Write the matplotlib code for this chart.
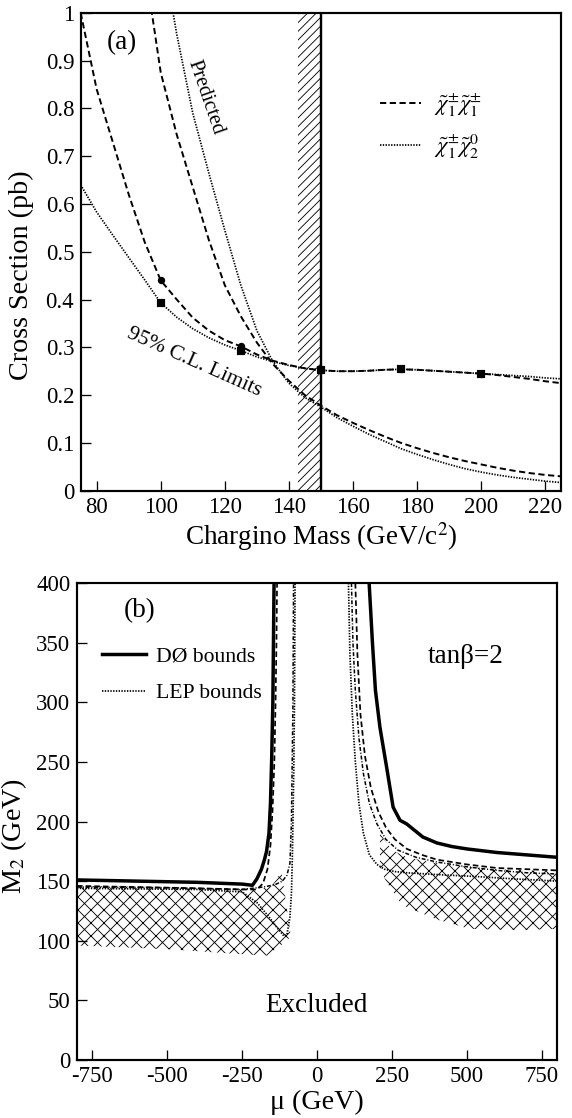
import numpy as np
import matplotlib
matplotlib.use("Agg")
import matplotlib.pyplot as plt
from matplotlib.patches import Polygon

plt.rcParams["font.family"] = ["Liberation Serif", "DejaVu Serif"]
plt.rcParams["mathtext.fontset"] = "stix"
plt.rcParams["axes.unicode_minus"] = False
plt.rcParams["hatch.linewidth"] = 0.4

DPI = 156

# ── (a) cross sections vs chargino mass ──────────────────────────────────────
mass = [75, 80, 85, 90, 95, 100, 105, 110, 115, 120, 125, 130, 135, 140, 145,
        150, 155, 160, 165, 170, 175, 180, 185, 190, 195, 200, 205, 210, 215,
        220, 225]

limit_c1c1 = [1.00, 0.84, 0.73, 0.62, 0.52, 0.44, 0.40, 0.362, 0.335, 0.315,
              0.302, 0.285, 0.272, 0.263, 0.256, 0.252, 0.250, 0.250, 0.251,
              0.253, 0.254, 0.253, 0.251, 0.249, 0.247, 0.245, 0.242, 0.238,
              0.234, 0.229, 0.225]
limit_c1n2 = [0.64, 0.583, 0.535, 0.488, 0.441, 0.393, 0.363, 0.339, 0.320,
              0.305, 0.293, 0.280, 0.270, 0.262, 0.256, 0.252, 0.250, 0.250,
              0.251, 0.253, 0.254, 0.253, 0.251, 0.249, 0.247, 0.245, 0.243,
              0.241, 0.239, 0.236, 0.234]

pred_mass = [95, 100, 105, 110, 115, 120, 125, 130, 135, 140, 145, 150, 155,
             160, 165, 170, 175, 180, 185, 190, 195, 200, 205, 210, 215, 220,
             225]
pred_c1c1 = [1.10, 0.875, 0.745, 0.635, 0.525, 0.43, 0.365, 0.31, 0.265,
             0.23, 0.20, 0.178, 0.158, 0.142, 0.127, 0.113, 0.100, 0.089,
             0.079, 0.070, 0.062, 0.055, 0.048, 0.042, 0.037, 0.033, 0.030]
pred_c1n2 = [1.30, 1.15, 0.955, 0.79, 0.665, 0.545, 0.43, 0.335, 0.27,
             0.225, 0.195, 0.175, 0.153, 0.135, 0.118, 0.103, 0.088, 0.076,
             0.065, 0.055, 0.046, 0.039, 0.033, 0.028, 0.024, 0.020, 0.017]

marker_mass = [100, 125, 150, 175, 200]
marker_c1c1 = [0.44, 0.302, 0.252, 0.254, 0.245]
marker_c1n2 = [0.393, 0.293, 0.252, 0.254, 0.245]

band_lo, band_hi = 143, 150   # hatched mass band and LEP line

# ── (b) excluded region in the mu-M2 plane, tan(beta)=2 ──────────────────────
d0_left_mu = [-800, -700, -600, -500, -400, -300, -250, -215, -200, -185,
              -175, -168, -160, -155, -151, -147, -145, -143]
d0_left_m2 = [151, 150.5, 150, 149.5, 149, 148, 147.5, 146.5, 152, 160,
              168, 175, 190, 215, 252, 300, 350, 400]
d0_right_mu = [174, 185, 195, 210, 232, 254, 277, 299, 353, 400, 450, 500,
               600, 700, 800]
d0_right_m2 = [400, 350, 310, 279, 246, 212, 201, 198, 187, 182, 179, 177,
               174, 172, 170]

dash_left_mu = [-800, -600, -400, -250, -200, -180, -165, -155, -148, -142,
                -138, -135, -133]
dash_left_m2 = [146, 145, 144, 143, 143, 148, 160, 180, 210, 250, 300, 350,
                400]
dash_right_mu = [128, 135, 145, 160, 180, 205, 230, 260, 300, 350, 400, 500,
                 600, 700, 800]
dash_right_m2 = [400, 340, 290, 255, 228, 208, 195, 185, 177, 172, 168, 164,
                 161, 160, 159]

dashdot_left_mu = [-800, -500, -250, -180, -140, -115, -100, -90, -85, -80,
                   -78]
dashdot_left_m2 = [145, 144.5, 143, 145, 147, 150, 155, 165, 200, 300, 400]
dashdot_right_mu = [115, 120, 128, 140, 155, 175, 200, 230, 270, 330, 400,
                    500, 600, 700, 800]
dashdot_right_m2 = [400, 350, 310, 270, 240, 215, 198, 185, 176, 170, 166,
                    162, 159, 157, 156]

lep_left_mu = [-800, -600, -400, -250, -200, -160, -130, -110, -100, -90,
               -85, -82, -80, -77, -75, -73]
lep_left_m2 = [144, 143.5, 143, 141, 132, 120, 110, 104, 105, 120, 140, 170,
               200, 250, 300, 400]
lep_right_mu = [105, 110, 118, 128, 140, 155, 175, 200, 225, 260, 300, 400,
                520, 650, 800]
lep_right_m2 = [400, 340, 290, 250, 215, 190, 172, 164, 160, 158, 157, 155.5,
                154, 152, 150]

hatch_left_mu = [-800, -500, -250, -200, -150, -118, -87, -100, -166, -270,
                 -500, -800]
hatch_left_m2 = [146, 145, 143, 143, 146, 158, 104, 100, 87.6, 89, 93, 96]
hatch_right_mu = [210, 250, 300, 400, 500, 600, 700, 800, 800, 700, 641, 508,
                  398, 283, 230, 210]
hatch_right_m2 = [190, 176, 170, 165, 162, 160, 159, 158, 110, 109, 109, 110,
                  118, 130, 150, 161]

fig = plt.figure(figsize=(572 / DPI, 1118 / DPI), dpi=DPI)
ax_a = fig.add_axes([0.141, 0.5611, 0.840, 0.4275])
ax_b = fig.add_axes([0.1346, 0.0519, 0.839, 0.4266])

tick_kw = dict(direction="in", length=4.5, width=0.6, labelsize=10.5,
               top=False, right=False, pad=3)
DASH = (0, (3.2, 1.8))
DOT = (0, (0.8, 0.8))
DASHDOT = (0, (2.6, 1.2, 0.7, 1.2))

# panel (a)
ax = ax_a
ax.axvspan(band_lo, band_hi, facecolor="none", edgecolor="black",
           hatch="//////", linewidth=0)
ax.axvline(band_hi, color="black", lw=1.1)
ax.plot(pred_mass, pred_c1c1, color="black", lw=0.9, ls=DASH)
ax.plot(pred_mass, pred_c1n2, color="black", lw=0.8, ls=DOT)
l1, = ax.plot(mass, limit_c1c1, color="black", lw=0.9, ls=DASH,
              label=r"$\tilde{\chi}_1^{\pm}\tilde{\chi}_1^{\pm}$")
l2, = ax.plot(mass, limit_c1n2, color="black", lw=0.8, ls=DOT,
              label=r"$\tilde{\chi}_1^{\pm}\tilde{\chi}_2^{0}$")
ax.plot(marker_mass, marker_c1c1, "o", color="black", ms=2.4)
ax.plot(marker_mass, marker_c1n2, "s", color="black", ms=2.4)

ax.set_xlim(75, 225)
ax.set_ylim(0, 1)
ax.set_xticks([80, 100, 120, 140, 160, 180, 200, 220])
ax.set_yticks(np.arange(0, 1.01, 0.1))
ax.set_yticklabels(["0", "0.1", "0.2", "0.3", "0.4", "0.5", "0.6", "0.7",
                    "0.8", "0.9", "1"])
ax.tick_params(**tick_kw)
ax.set_xlabel("Chargino Mass (GeV/c$^2$)", fontsize=12.5, labelpad=1)
ax.set_ylabel("Cross Section (pb)", fontsize=13)
ax.yaxis.set_label_coords(-0.098, 0.45)
ax.text(87.9, 0.937, "(a)", fontsize=12.5, ha="center", va="center")
ax.text(113.8, 0.823, "Predicted", fontsize=9.5, rotation=-71,
        ha="center", va="center")
ax.text(110.5, 0.268, "95% C.L. Limits", fontsize=10, rotation=-24,
        ha="center", va="center")
ax.legend(handles=[l1, l2], loc="upper left", bbox_to_anchor=(0.605, 0.855),
          frameon=False, fontsize=10.5, handlelength=1.8, handletextpad=0.55,
          labelspacing=0.55, borderaxespad=0)

# panel (b)
ax = ax_b
for hx, hy in ((hatch_left_mu, hatch_left_m2),
               (hatch_right_mu, hatch_right_m2)):
    ax.add_patch(Polygon(np.column_stack([hx, hy]), closed=True,
                         facecolor="none", edgecolor="black", linewidth=0,
                         hatch="xxxx"))
d0, = ax.plot(d0_left_mu, d0_left_m2, color="black", lw=1.6,
              label="DØ bounds")
ax.plot(d0_right_mu, d0_right_m2, color="black", lw=1.6)
ax.plot(dash_left_mu, dash_left_m2, color="black", lw=0.8, ls=DASH)
ax.plot(dash_right_mu, dash_right_m2, color="black", lw=0.8, ls=DASH)
ax.plot(dashdot_left_mu, dashdot_left_m2, color="black", lw=0.7, ls=DASHDOT)
ax.plot(dashdot_right_mu, dashdot_right_m2, color="black", lw=0.7,
        ls=DASHDOT)
lep, = ax.plot(lep_left_mu, lep_left_m2, color="black", lw=0.8, ls=DOT,
               label="LEP bounds")
ax.plot(lep_right_mu, lep_right_m2, color="black", lw=0.8, ls=DOT)

ax.set_xlim(-800, 800)
ax.set_ylim(0, 400)
ax.set_xticks([-750, -500, -250, 0, 250, 500, 750])
ax.set_yticks(np.arange(0, 401, 50))
ax.tick_params(**tick_kw)
ax.set_xlabel("μ (GeV)", fontsize=13, labelpad=1)
ax.set_ylabel("M$_2$ (GeV)", fontsize=13)
ax.yaxis.set_label_coords(-0.1, 0.47)
ax.text(-590, 377, "(b)", fontsize=12.5, ha="center", va="center")
ax.text(497, 338, "tanβ=2", fontsize=12.5, ha="center", va="center")
ax.text(0, 46, "Excluded", fontsize=12.5, ha="center", va="center")
ax.legend(handles=[d0, lep], loc="upper left", bbox_to_anchor=(0.035, 0.885),
          frameon=False, fontsize=10, handlelength=2.0, handletextpad=0.45,
          labelspacing=0.75, borderaxespad=0)

for a in (ax_a, ax_b):
    for s in a.spines.values():
        s.set_linewidth(1.0)

fig.savefig("out.png", dpi=DPI)
